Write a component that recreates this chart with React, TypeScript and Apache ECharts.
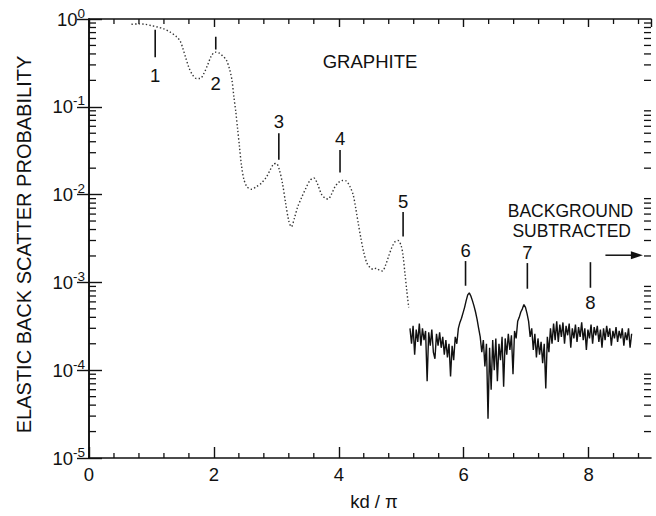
import React, { useEffect, useRef } from "react";
import * as echarts from "echarts";

// ---------- data ----------
const X_MIN = 0;
const X_MAX = 9;
const Y_MIN = 1e-5;
const Y_MAX = 1;

const xTickLabels = ["0", "2", "4", "6", "8"];
const yTickExponents = ["0", "-1", "-2", "-3", "-4", "-5"];

// smooth (dotted) part of the measured curve
const smoothX = [
  0.68, 0.8, 0.9, 1.0, 1.1, 1.2, 1.3, 1.4, 1.46, 1.5, 1.55, 1.6, 1.66, 1.72, 1.78, 1.84, 1.9, 1.96,
  2.02, 2.08, 2.14, 2.2, 2.25, 2.29, 2.32, 2.35, 2.38, 2.41, 2.44, 2.48, 2.53, 2.6, 2.68, 2.76, 2.84,
  2.9, 2.96, 3.0, 3.05, 3.1, 3.15, 3.2, 3.24, 3.29, 3.34, 3.4, 3.47, 3.54, 3.6, 3.66, 3.72, 3.78,
  3.83, 3.88, 3.94, 4.0, 4.06, 4.12, 4.18, 4.23, 4.27, 4.31, 4.35, 4.4, 4.45, 4.5, 4.55, 4.6, 4.65,
  4.7, 4.75, 4.8, 4.85, 4.9, 4.95, 5.0, 5.03, 5.06, 5.09, 5.12,
];
const smoothY = [
  0.87, 0.88, 0.87, 0.84, 0.81, 0.77, 0.71, 0.63, 0.56, 0.47, 0.36, 0.28, 0.23, 0.21, 0.21, 0.24, 0.3,
  0.38, 0.42, 0.41, 0.38, 0.34, 0.27, 0.2, 0.13, 0.089, 0.056, 0.035, 0.022, 0.015, 0.0123, 0.0115,
  0.0123, 0.0135, 0.0158, 0.019, 0.0224, 0.0226, 0.019, 0.0132, 0.0079, 0.005, 0.0043, 0.0054, 0.0072,
  0.0091, 0.0117, 0.0145, 0.0155, 0.0132, 0.0102, 0.0091, 0.0089, 0.01, 0.0123, 0.0138, 0.0145,
  0.0143, 0.0123, 0.01, 0.0071, 0.0048, 0.0033, 0.0022, 0.00166, 0.00148, 0.00141, 0.00145, 0.00138,
  0.00135, 0.00158, 0.002, 0.0025, 0.0029, 0.003, 0.0026, 0.002, 0.00126, 0.00079, 0.00052,
];

// noisy (background subtracted) part, y in units of 1e-4
const noiseX = [
  5.14, 5.165, 5.19, 5.215, 5.24, 5.265, 5.29, 5.315, 5.34, 5.365, 5.39, 5.415, 5.44, 5.465, 5.49,
  5.515, 5.54, 5.565, 5.59, 5.615, 5.64, 5.665, 5.69, 5.715, 5.74, 5.765, 5.79, 5.815, 5.84, 5.865,
  5.89, 5.915, 5.94, 5.965, 5.99, 6.015, 6.04, 6.065, 6.09, 6.115, 6.14, 6.165, 6.19, 6.215, 6.24,
  6.265, 6.29, 6.315, 6.34, 6.365, 6.39, 6.415, 6.44, 6.465, 6.49, 6.515, 6.54, 6.565, 6.59, 6.615,
  6.64, 6.665, 6.69, 6.715, 6.74, 6.765, 6.79, 6.815, 6.84, 6.865, 6.89, 6.915, 6.94, 6.965, 6.99,
  7.015, 7.04, 7.065, 7.09, 7.115, 7.14, 7.165, 7.19, 7.215, 7.24, 7.265, 7.29, 7.315, 7.34, 7.365,
  7.39, 7.415, 7.44, 7.465, 7.49, 7.515, 7.54, 7.565, 7.59, 7.615, 7.64, 7.665, 7.69, 7.715, 7.74,
  7.765, 7.79, 7.815, 7.84, 7.865, 7.89, 7.915, 7.94, 7.965, 7.99, 8.015, 8.04, 8.065, 8.09, 8.115,
  8.14, 8.165, 8.19, 8.215, 8.24, 8.265, 8.29, 8.315, 8.34, 8.365, 8.39, 8.415, 8.44, 8.465, 8.49,
  8.515, 8.54, 8.565, 8.59, 8.615, 8.64, 8.665, 8.69,
];
const noiseYe4 = [
  3.0, 2.0, 3.2, 1.5, 2.9, 2.1, 3.4, 1.9, 3.0, 2.2, 2.8, 0.75, 2.7, 1.9, 2.9,
  1.6, 1.35, 2.6, 1.9, 2.7, 1.8, 2.4, 1.5, 2.2, 1.4, 2.0, 0.85, 1.9, 1.3, 2.4,
  2.0, 3.0, 3.5, 3.9, 4.5, 5.2, 6.2, 7.2, 7.6, 7.0, 6.2, 5.4, 4.6, 3.8, 3.0,
  2.4, 1.6, 2.2, 1.1, 2.0, 0.28, 1.8, 0.6, 2.2, 1.0, 2.3, 0.75, 2.0, 1.3, 2.4,
  0.65, 2.3, 1.5, 2.6, 1.7, 2.5, 0.9, 2.8, 2.3, 3.6, 4.0, 4.6, 5.0, 5.6, 5.2,
  4.4, 3.6, 2.4, 3.0, 1.7, 2.6, 1.4, 2.3, 1.5, 2.1, 1.2, 2.0, 0.62, 2.4, 1.6,
  3.0, 2.0, 3.4, 2.2, 3.6, 2.1, 3.3, 2.4, 3.5, 2.0, 3.2, 2.5, 3.4, 1.8, 3.0,
  2.3, 3.3, 2.1, 3.1, 2.4, 3.5, 2.2, 3.0, 1.7, 2.9, 2.3, 3.3, 2.0, 3.1, 2.5,
  3.2, 2.1, 2.9, 1.8, 3.0, 2.2, 3.2, 2.4, 3.0, 1.9, 2.8, 2.3, 3.1, 2.1, 2.8,
  2.3, 3.0, 1.9, 2.7, 2.2, 3.0, 1.8, 2.6,
];

// numbered peak markers
const peakLabels = ["1", "2", "3", "4", "5", "6", "7", "8"];
const peakX = [1.06, 2.03, 3.04, 4.02, 5.03, 6.03, 7.02, 8.03];
const peakLineTop = [0.753, 0.628, 0.0501, 0.0323, 0.00635, 0.00175, 0.00166, 0.0017];
const peakLineBottom = [0.366, 0.449, 0.0249, 0.0178, 0.00333, 0.000916, 0.000847, 0.000869];
const peakLabelY = [0.23, 0.182, 0.0682, 0.044, 0.00843, 0.00232, 0.0022, 0.00059];

// text notes
const noteTexts = ["GRAPHITE", "BACKGROUND", "SUBTRACTED"];
const noteX = [4.5, 7.71, 7.73];
const noteY = [0.33, 0.00651, 0.00389];
const noteSize = [18.5, 17.5, 17.5];
const arrowX = [8.27, 8.87];
const arrowY = 0.00204;

const FONT = '"Liberation Sans", Arial, sans-serif';
const INK = "#111";

export default function App() {
  const ref = useRef<HTMLDivElement>(null);

  useEffect(() => {
    document.body.style.margin = "0";
    if (!ref.current) return;
    const chart = echarts.init(ref.current, null, { renderer: "svg" });

    // minor tick positions (axis decoration)
    const yMinor: number[][] = [];
    for (let k = -5; k < 0; k++) {
      for (let m = 2; m <= 9; m++) yMinor.push([0, m * Math.pow(10, k)]);
    }
    const xMinor: number[][] = [];
    for (let i = 1; i * 0.4 < X_MAX; i++) {
      const v = Math.round(i * 0.4 * 10) / 10;
      if (Math.abs(v / 2 - Math.round(v / 2)) > 1e-6) xMinor.push([v, Y_MIN]);
    }

    const axisLineStyle = { color: INK, width: 1.6 };

    const option: any = {
      animation: false,
      backgroundColor: "#fff",
      grid: { left: 89, right: 5, top: 19, bottom: 51, containLabel: false },
      xAxis: [
        {
          type: "value",
          min: X_MIN,
          max: X_MAX,
          interval: 2,
          position: "bottom",
          name: "kd / π",
          nameLocation: "middle",
          nameGap: 34,
          nameTextStyle: { fontSize: 18.5, color: INK, fontFamily: FONT, padding: [0, 0, 0, 8] },
          axisLine: { lineStyle: axisLineStyle },
          axisTick: { inside: true, length: 11, lineStyle: { color: INK, width: 1.4 } },
          axisLabel: {
            fontSize: 18.5,
            color: INK,
            fontFamily: FONT,
            margin: 7,
            showMaxLabel: false,
            formatter: (v: number) => {
              const idx = Math.round(v / 2);
              return Math.abs(v - idx * 2) < 1e-6 && xTickLabels[idx] ? xTickLabels[idx] : "";
            },
          },
          splitLine: { show: false },
        },
        {
          type: "value",
          min: X_MIN,
          max: X_MAX,
          interval: 2,
          position: "top",
          axisLine: { lineStyle: axisLineStyle },
          axisTick: { inside: true, length: 8, lineStyle: { color: INK, width: 1.4 } },
          axisLabel: { show: false },
          splitLine: { show: false },
        },
      ],
      yAxis: [
        {
          type: "log",
          logBase: 10,
          min: Y_MIN,
          max: Y_MAX,
          position: "left",
          name: "ELASTIC BACK SCATTER PROBABILITY",
          nameLocation: "middle",
          nameGap: 55,
          nameTextStyle: { fontSize: 20, color: INK, fontFamily: FONT, padding: [0, 12, 0, 0] },
          axisLine: { lineStyle: axisLineStyle },
          axisTick: { inside: true, length: 13, lineStyle: { color: INK, width: 1.4 } },
          axisLabel: {
            margin: 4,
            formatter: (v: number) => {
              const e = Math.round(-Math.log10(v));
              return `{b|10}{s|${yTickExponents[e] ?? ""}}`;
            },
            rich: {
              b: { fontSize: 18.5, color: INK, fontFamily: FONT, lineHeight: 26, verticalAlign: "middle" },
              s: { fontSize: 13.5, color: INK, fontFamily: FONT, verticalAlign: "top" },
            },
          },
          splitLine: { show: false },
        },
        {
          type: "log",
          logBase: 10,
          min: Y_MIN,
          max: Y_MAX,
          position: "right",
          axisLine: { lineStyle: axisLineStyle },
          axisTick: { inside: true, length: 12, lineStyle: { color: INK, width: 1.4 } },
          axisLabel: { show: false },
          splitLine: { show: false },
        },
      ],
      series: [
        {
          type: "line",
          name: "measured",
          data: smoothX.map((x, i) => [x, smoothY[i]]),
          showSymbol: false,
          symbol: "none",
          smooth: 0.3,
          lineStyle: { color: "#333", width: 1.4, type: [1.4, 2.2] },
        },
        {
          type: "line",
          name: "background subtracted",
          data: noiseX.map((x, i) => [x, noiseYe4[i] * 1e-4]),
          showSymbol: false,
          symbol: "none",
          lineStyle: { color: INK, width: 1.4 },
        },
        {
          type: "custom",
          name: "yMinorTicks",
          clip: false,
          silent: true,
          data: yMinor,
          encode: { x: 0, y: 1 },
          renderItem: (params: any, api: any) => {
            const v = api.value(1);
            const l = api.coord([X_MIN, v]);
            const r = api.coord([X_MAX, v]);
            return {
              type: "group",
              children: [
                { type: "line", shape: { x1: l[0], y1: l[1], x2: l[0] + 7, y2: l[1] }, style: { stroke: INK, lineWidth: 1.3 } },
                { type: "line", shape: { x1: r[0] - 7, y1: r[1], x2: r[0], y2: r[1] }, style: { stroke: INK, lineWidth: 1.3 } },
              ],
            };
          },
        },
        {
          type: "custom",
          name: "xMinorTicks",
          clip: false,
          silent: true,
          data: xMinor,
          encode: { x: 0, y: 1 },
          renderItem: (params: any, api: any) => {
            const x = api.value(0);
            const b = api.coord([x, Y_MIN]);
            const t = api.coord([x, Y_MAX]);
            return {
              type: "group",
              children: [
                { type: "line", shape: { x1: b[0], y1: b[1], x2: b[0], y2: b[1] - 5 }, style: { stroke: INK, lineWidth: 1.3 } },
                { type: "line", shape: { x1: t[0], y1: t[1], x2: t[0], y2: t[1] + 5 }, style: { stroke: INK, lineWidth: 1.3 } },
              ],
            };
          },
        },
        {
          type: "custom",
          name: "peaks",
          clip: false,
          silent: true,
          data: peakX.map((x, i) => [x, peakLineTop[i], peakLineBottom[i], peakLabelY[i]]),
          encode: { x: 0, y: [1, 2, 3] },
          renderItem: (params: any, api: any) => {
            const x = api.value(0);
            const top = api.coord([x, api.value(1)]);
            const bot = api.coord([x, api.value(2)]);
            const lab = api.coord([x, api.value(3)]);
            return {
              type: "group",
              children: [
                { type: "line", shape: { x1: top[0], y1: top[1], x2: bot[0], y2: bot[1] }, style: { stroke: INK, lineWidth: 1.6 } },
                {
                  type: "text",
                  x: lab[0],
                  y: lab[1],
                  style: {
                    text: peakLabels[params.dataIndex],
                    fill: INK,
                    fontSize: 18.5,
                    lineHeight: 14,
                    fontFamily: FONT,
                    align: "center",
                    verticalAlign: "middle",
                  },
                },
              ],
            };
          },
        },
        {
          type: "custom",
          name: "notes",
          clip: false,
          silent: true,
          data: noteX.map((x, i) => [x, noteY[i]]),
          encode: { x: 0, y: 1 },
          renderItem: (params: any, api: any) => {
            const p = api.coord([api.value(0), api.value(1)]);
            return {
              type: "text",
              x: p[0],
              y: p[1],
              style: {
                text: noteTexts[params.dataIndex],
                fill: INK,
                fontSize: noteSize[params.dataIndex],
                lineHeight: 14,
                fontFamily: FONT,
                align: "center",
                verticalAlign: "middle",
              },
            };
          },
        },
        {
          type: "custom",
          name: "arrow",
          clip: false,
          silent: true,
          data: [[arrowX[0], arrowX[1], arrowY]],
          encode: { x: [0, 1], y: 2 },
          renderItem: (params: any, api: any) => {
            const a = api.coord([api.value(0), api.value(2)]);
            const b = api.coord([api.value(1), api.value(2)]);
            return {
              type: "group",
              children: [
                { type: "line", shape: { x1: a[0], y1: a[1], x2: b[0] - 8, y2: b[1] }, style: { stroke: INK, lineWidth: 1.5 } },
                {
                  type: "polygon",
                  shape: { points: [[b[0] - 12, b[1] - 4], [b[0], b[1]], [b[0] - 12, b[1] + 4]] },
                  style: { fill: INK },
                },
              ],
            };
          },
        },
      ],
    };

    chart.setOption(option);
    return () => chart.dispose();
  }, []);

  return <div ref={ref} style={{ width: 656, height: 516 }} />;
}
